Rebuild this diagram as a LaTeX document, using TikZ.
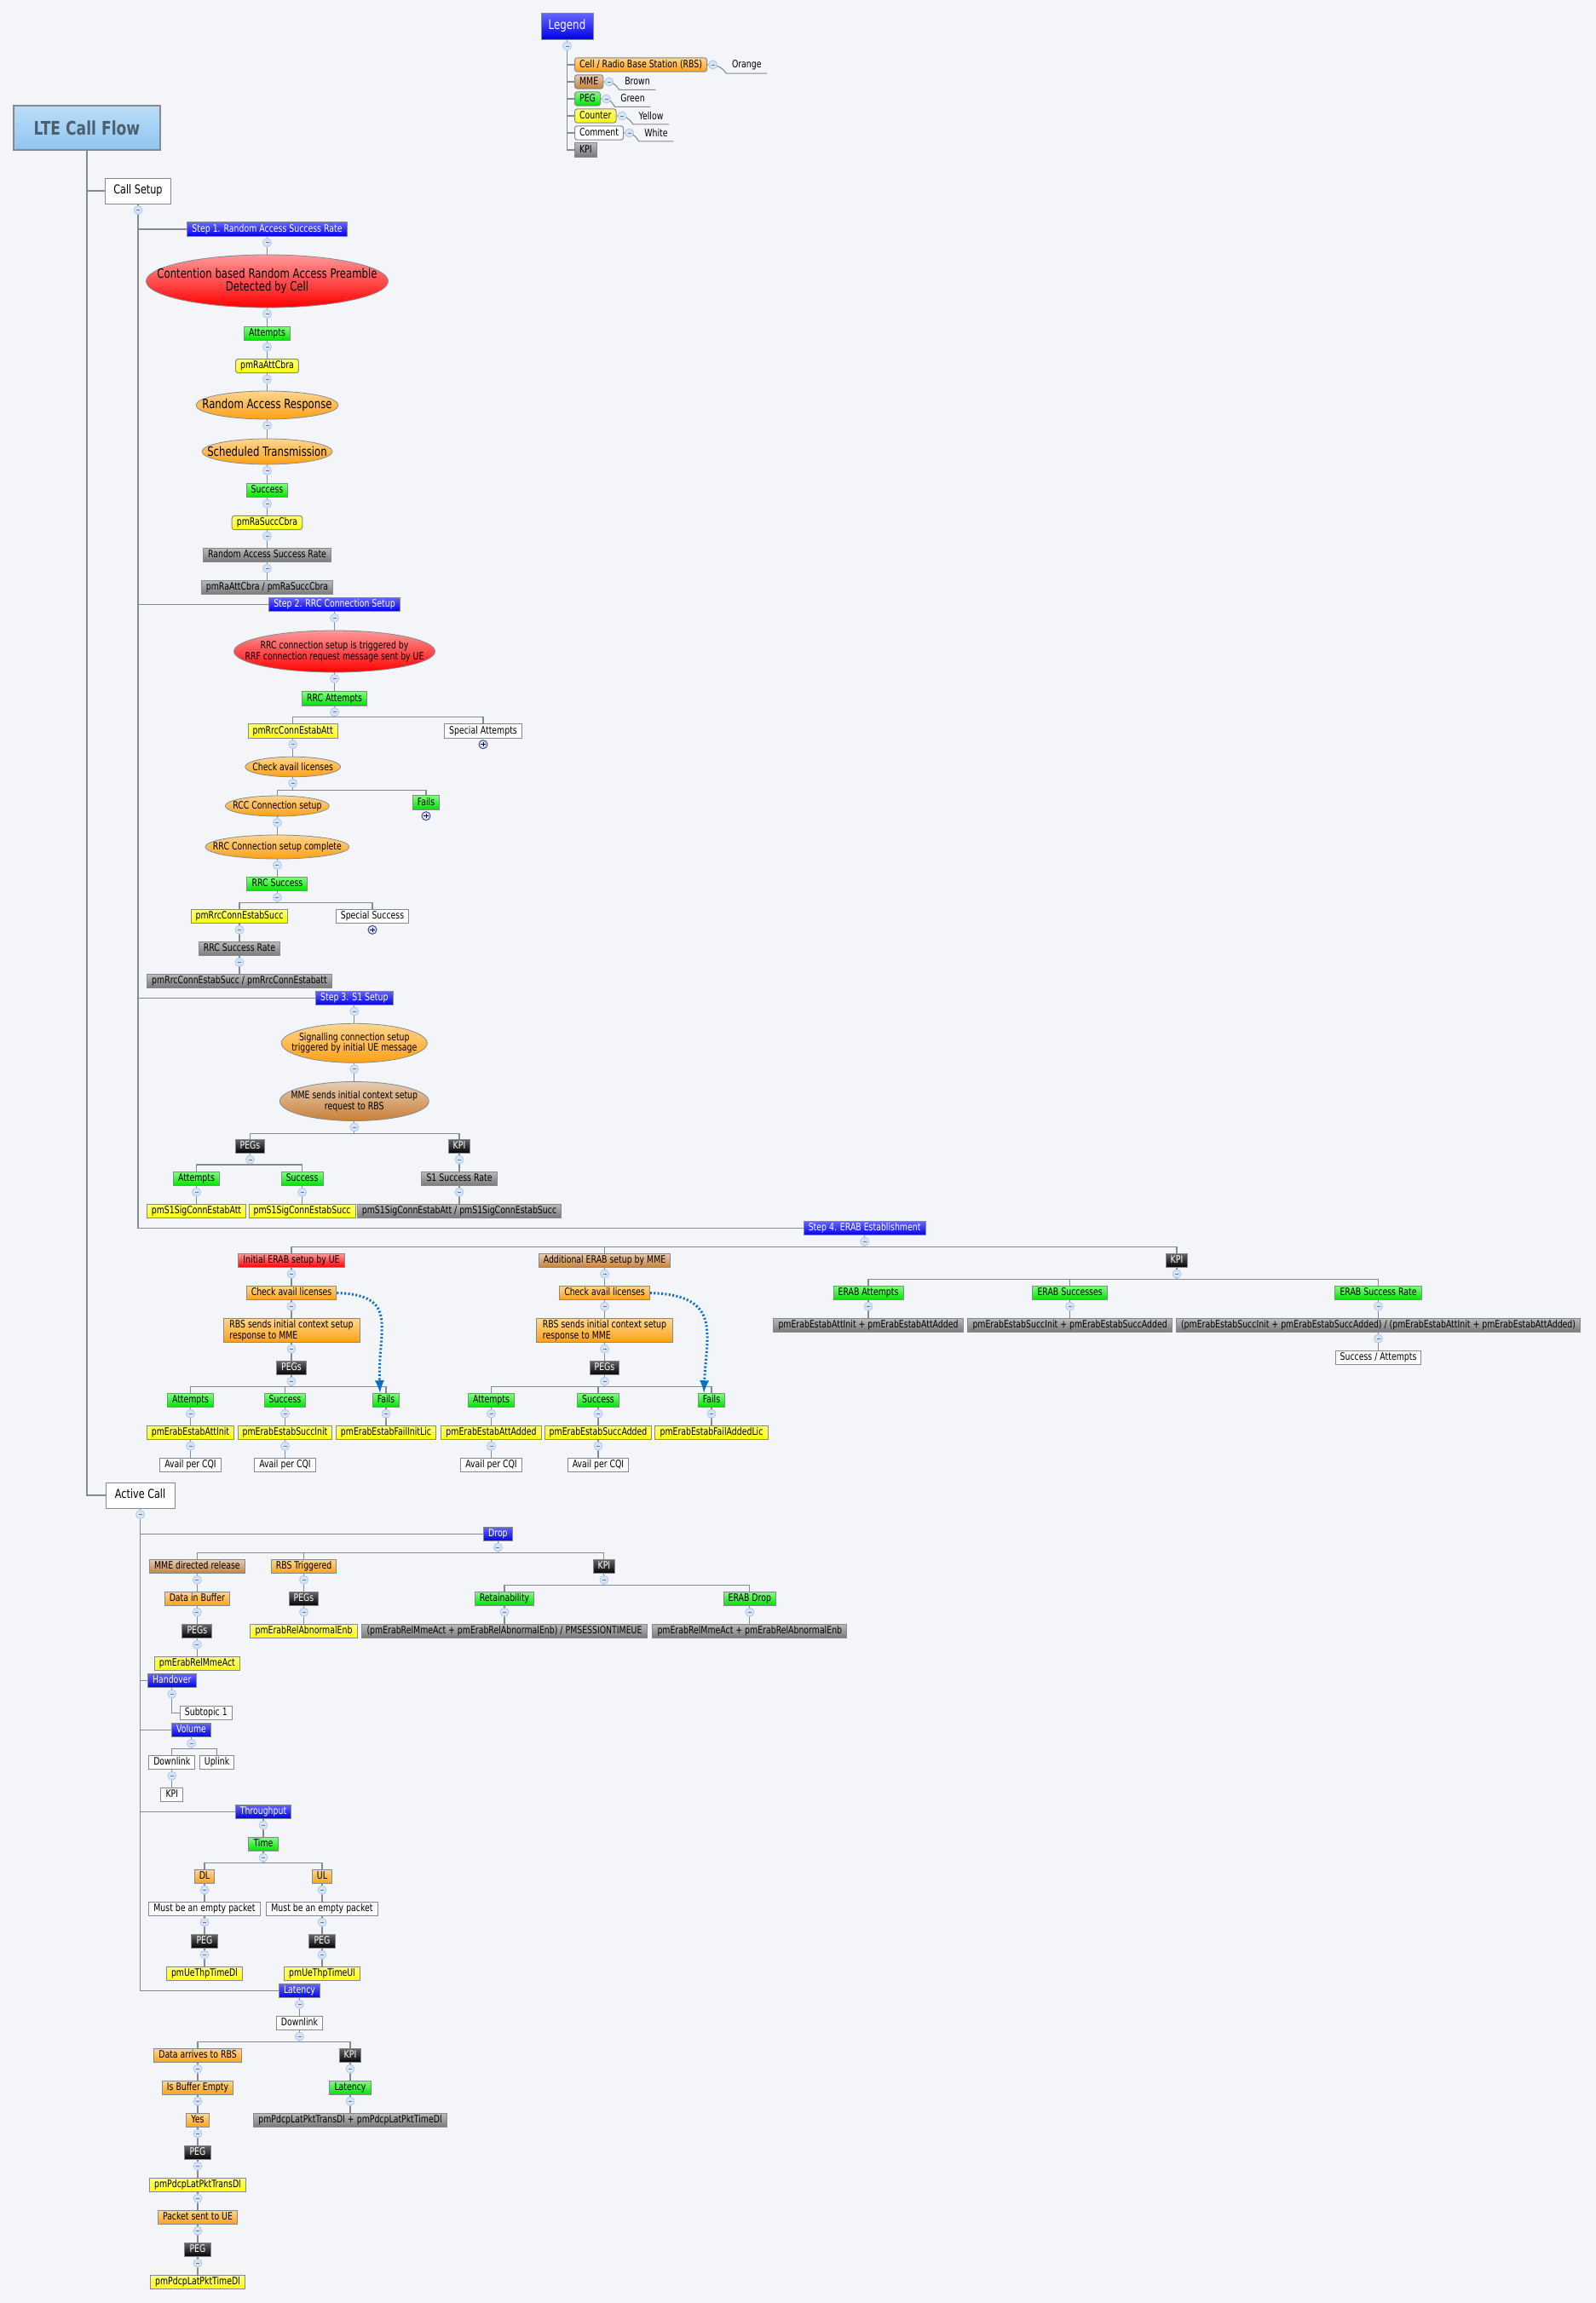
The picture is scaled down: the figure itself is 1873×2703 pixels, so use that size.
\documentclass[tikz,border=0pt]{standalone}
\usepackage{fontspec}
\setmainfont{DejaVu Sans}[FakeStretch=0.78]
\usetikzlibrary{calc,shapes.geometric}
\definecolor{bgc}{HTML}{F3F5F9}
\definecolor{edgec}{HTML}{858A91}
\definecolor{togf}{HTML}{D6E4F6}
\definecolor{togd}{HTML}{AFC8E8}
\definecolor{dotc}{HTML}{0B6FC4}
\definecolor{orgt}{HTML}{FFD68F}
\definecolor{orgb}{HTML}{FFA015}
\definecolor{ttlt}{HTML}{BBDDF8}
\definecolor{ttlb}{HTML}{8FC5F1}
\definecolor{ttlx}{HTML}{4D5F6E}
\tikzset{
  lnk/.style={draw=edgec,line width=.55pt},
  dotlnk/.style={draw=dotc,line width=1.5pt,dash pattern=on 1pt off 1.2pt,-latex},
  txt/.style={font=\fontsize{6}{6.2}\selectfont,text=black},
  lbig/.style={font=\fontsize{7.5}{7.6}\selectfont,text=black,align=center},
  lsm/.style={txt,align=center},
  box/.style={rectangle,draw=edgec,line width=.5pt,minimum height=8.2pt,inner ysep=0pt,inner xsep=2.8pt,
    text height=4.4pt,text depth=1.3pt,txt},
  ell/.style={ellipse,draw=edgec,line width=.4pt,inner sep=0pt},
  grn/.style={top color=green!50!white,bottom color=green!88!black},
  ylw/.style={top color=yellow!50!white,bottom color=yellow},
  org/.style={top color=orgt,bottom color=orgb},
  brn/.style={top color=brown!40!white,bottom color=brown!85!orange},
  rdd/.style={top color=red!40!white,bottom color=red},
  gry/.style={top color=black!27,bottom color=black!53},
  blk/.style={top color=black!60,bottom color=black,text=white},
  blu/.style={top color=blue!60!white,bottom color=blue!90!black,text=white},
  wht/.style={fill=white},
  ttl/.style={rectangle,draw=edgec,line width=.7pt,top color=ttlt,bottom color=ttlb},
  tog/.style={circle,draw=togd,fill=togf,line width=.4pt,minimum size=5pt,inner sep=0pt,
    path picture={\draw[togd!60!black,line width=.3pt] ([xshift=-1pt]path picture bounding box.center) -- ([xshift=1pt]path picture bounding box.center);}},
  togp/.style={circle,draw=blue!40!black!70,fill=togf,line width=.5pt,minimum size=5pt,inner sep=0pt,
    path picture={\draw[blue!40!black,line width=.4pt] ([xshift=-1.3pt]path picture bounding box.center) -- ([xshift=1.3pt]path picture bounding box.center)
      ([yshift=-1.3pt]path picture bounding box.center) -- ([yshift=1.3pt]path picture bounding box.center);}},
  note/.style={rectangle,inner ysep=0pt,inner xsep=3.2pt,minimum height=9.5pt,txt},
  twoline/.style={minimum height=14.2pt,minimum width=80pt,align=left,text height=,text depth=}
}
\newcommand\tog[1]{\node[tog] (t#1) at ($(#1.south)+(0,7)$) {};}
\newcommand\more[1]{\node[togp] (t#1) at ($(#1.south)+(0,7)$) {};}
\newcommand\kids[3][13]{
  \foreach \ch in {#3}{\draw[lnk] (#2.south) -- ++(0,#1) -| (\ch.north);}
  \tog{#2}
}
\newcommand\hue[2]{
  \draw[lnk] (#1.east) .. controls +(10,0) and +(-5,-8) .. (#2.south west) -- (#2.south east);
  \node[tog] (t#1) at ($(#1.east)+(6.5,0)$) {};
}
\begin{document}
\begin{tikzpicture}[x=.5pt,y=-.5pt]
  \useasboundingbox (0,0) rectangle (1873,2703);
  \fill[bgc] (0,0) rectangle (1873,2703);

  \node[ttl,minimum width=86pt,minimum height=26pt,font=\fontsize{11}{12}\bfseries,text=ttlx] (lte) at (102,150) {LTE Call Flow};
  \node[box,wht,minimum width=38.7pt,minimum height=15pt,font=\fontsize{7.2}{8}\selectfont] (setup) at (162,224) {Call Setup};
  \node[box,wht,minimum width=40.5pt,minimum height=15pt,font=\fontsize{7.2}{8}\selectfont] (active) at (164.6,1755) {Active Call};
  \draw[lnk] (lte.south) |- (setup.west);
  \draw[lnk] (lte.south) |- (active.west);

  \node[box,blu,minimum width=30.5pt,minimum height=15.5pt,font=\fontsize{7.6}{8}\selectfont] (legend) at (665.5,31) {Legend};
  \node[box,org,rounded corners=1.5pt,anchor=west] (cell) at (674,76) {Cell / Radio Base Station (RBS)};
  \node[box,brn,rounded corners=1.5pt,anchor=west] (mme) at (674,96) {MME};
  \node[box,grn,rounded corners=1.5pt,anchor=west] (peg) at (674,116) {PEG};
  \node[box,ylw,rounded corners=1.5pt,anchor=west] (counter) at (674,136) {Counter};
  \node[box,wht,rounded corners=1.5pt,anchor=west] (comment) at (674,156) {Comment};
  \node[box,gry,anchor=west] (kpi) at (674,176) {KPI};
  \foreach \n in {cell,mme,peg,counter,comment,kpi}{\draw[lnk] (legend.south) |- (\n.west);}
  \tog{legend}
  \node[note] (orange) at (876.3,76.2) {Orange};
  \node[note] (brown) at (748,95.5) {Brown};
  \node[note] (green) at (742.5,115.5) {Green};
  \node[note] (yellow) at (764,136) {Yellow};
  \node[note] (white) at (770,156) {White};
  \hue{cell}{orange}
  \hue{mme}{brown}
  \hue{peg}{green}
  \hue{counter}{yellow}
  \hue{comment}{white}

  \node[box,blu] (step1) at (313.5,269) {Step 1. Random Access Success Rate};
  \node[ell,rdd,minimum width=142pt,minimum height=31pt,label={[lbig]center:Contention based Random Access Preamble\\Detected by Cell}] (cont) at (313.5,330) {};
  \node[box,grn] (att1) at (313.5,391.5) {Attempts};
  \node[box,ylw,rounded corners=1.5pt] (racnt) at (313.5,429.5) {pmRaAttCbra};
  \node[ell,org,minimum width=83.5pt,minimum height=16.5pt,label={[lbig]center:Random Access Response}] (resp) at (313.5,475.5) {};
  \node[ell,org,minimum width=76.5pt,minimum height=15pt,label={[lbig]center:Scheduled Transmission}] (sched) at (313.5,530) {};
  \node[box,grn] (succ1) at (313.5,575.5) {Success};
  \node[box,ylw,rounded corners=1.5pt] (rasucc) at (313.5,613.5) {pmRaSuccCbra};
  \node[box,gry] (rarate) at (313.5,651.5) {Random Access Success Rate};
  \node[box,gry] (raform) at (313.5,689.5) {pmRaAttCbra / pmRaSuccCbra};
  \draw[lnk] (setup.south) |- (step1.west);
  \kids{step1}{cont}
  \kids{cont}{att1}
  \kids{att1}{racnt}
  \kids{racnt}{resp}
  \kids{resp}{sched}
  \kids{sched}{succ1}
  \kids{succ1}{rasucc}
  \kids{rasucc}{rarate}
  \kids{rarate}{raform}

  \node[box,blu] (step2) at (392.5,709.5) {Step 2. RRC Connection Setup};
  \node[ell,rdd,minimum width=118pt,minimum height=24.5pt,label={[lsm]center:RRC connection setup is triggered by\\RRF connection request message sent by UE}] (rrc) at (392.5,764.5) {};
  \node[box,grn] (rrcatt) at (392.5,820) {RRC Attempts};
  \node[box,ylw] (rrcpm) at (343.7,858) {pmRrcConnEstabAtt};
  \node[box,wht] (spatt) at (567,858) {Special Attempts};
  \node[ell,org,minimum width=56pt,minimum height=11.8pt,label={[lsm]center:Check avail licenses}] (lic) at (343.7,900) {};
  \node[ell,org,minimum width=61pt,minimum height=12pt,label={[lsm]center:RCC Connection setup}] (rcc) at (325.4,946) {};
  \node[box,grn] (fails) at (500,942) {Fails};
  \node[ell,org,minimum width=84.5pt,minimum height=14pt,label={[lsm]center:RRC Connection setup complete}] (rccdone) at (325.4,994) {};
  \node[box,grn] (rrcsucc) at (325.4,1037.5) {RRC Success};
  \node[box,ylw] (rrcspm) at (281,1075.6) {pmRrcConnEstabSucc};
  \node[box,wht] (spsucc) at (437,1075.6) {Special Success};
  \node[box,gry] (rrcrate) at (281,1113.7) {RRC Success Rate};
  \node[box,gry] (rrcform) at (281,1151.6) {pmRrcConnEstabSucc / pmRrcConnEstabatt};
  \draw[lnk] (setup.south) |- (step2.west);
  \kids{step2}{rrc}
  \kids{rrc}{rrcatt}
  \kids{rrcatt}{rrcpm,spatt}
  \more{spatt}
  \kids{rrcpm}{lic}
  \kids[15]{lic}{rcc,fails}
  \more{fails}
  \kids{rcc}{rccdone}
  \kids{rccdone}{rrcsucc}
  \kids{rrcsucc}{rrcspm,spsucc}
  \more{spsucc}
  \kids{rrcspm}{rrcrate}
  \kids{rrcrate}{rrcform}

  \node[box,blu] (step3) at (415.8,1171.3) {Step 3. S1 Setup};
  \node[ell,org,minimum width=85.5pt,minimum height=23pt,label={[lsm]center:Signalling connection setup\\triggered by initial UE message}] (sig) at (415.8,1224.3) {};
  \node[ell,brn,minimum width=87.5pt,minimum height=23pt,label={[lsm]center:MME sends initial context setup\\request to RBS}] (mmeinit) at (415.8,1292.5) {};
  \node[box,blk] (s1pegs) at (293.5,1345.3) {PEGs};
  \node[box,blk] (s1kpi) at (539,1345.3) {KPI};
  \node[box,grn] (s1att) at (230.5,1383.5) {Attempts};
  \node[box,grn] (s1succ) at (354.6,1383.5) {Success};
  \node[box,gry] (s1rate) at (539,1383.5) {S1 Success Rate};
  \node[box,ylw] (s1apm) at (230.5,1421.5) {pmS1SigConnEstabAtt};
  \node[box,ylw] (s1spm) at (354.6,1421.5) {pmS1SigConnEstabSucc};
  \node[box,gry] (s1form) at (539,1421.5) {pmS1SigConnEstabAtt / pmS1SigConnEstabSucc};
  \draw[lnk] (setup.south) |- (step3.west);
  \kids{step3}{sig}
  \kids{sig}{mmeinit}
  \kids[15]{mmeinit}{s1pegs,s1kpi}
  \kids{s1pegs}{s1att,s1succ}
  \kids{s1kpi}{s1rate}
  \kids{s1att}{s1apm}
  \kids{s1succ}{s1spm}
  \kids{s1rate}{s1form}

  \node[box,blu] (step4) at (1014.6,1441.5) {Step 4. ERAB Establishment};
  \node[box,rdd] (init) at (342,1479.5) {Initial ERAB setup by UE};
  \node[box,brn] (add) at (709.5,1479.5) {Additional ERAB setup by MME};
  \node[box,blk] (ekpi) at (1381,1479.5) {KPI};
  \node[box,org] (lica) at (342,1517.5) {Check avail licenses};
  \node[box,org] (licb) at (709.5,1517.5) {Check avail licenses};
  \node[box,org,twoline] (rbsa) at (342,1561.5) {RBS sends initial context setup\\response to MME};
  \node[box,org,twoline] (rbsb) at (709.5,1561.5) {RBS sends initial context setup\\response to MME};
  \node[box,blk] (pega) at (342,1605.5) {PEGs};
  \node[box,blk] (pegb) at (709.5,1605.5) {PEGs};
  \node[box,grn] (atta) at (223.5,1643.5) {Attempts};
  \node[box,grn] (suca) at (334.5,1643.5) {Success};
  \node[box,grn] (faila) at (453,1643.5) {Fails};
  \node[box,grn] (attb) at (576.5,1643.5) {Attempts};
  \node[box,grn] (sucb) at (702,1643.5) {Success};
  \node[box,grn] (failb) at (835,1643.5) {Fails};
  \node[box,ylw] (atpa) at (223.5,1681.5) {pmErabEstabAttInit};
  \node[box,ylw] (supa) at (334.5,1681.5) {pmErabEstabSuccInit};
  \node[box,ylw] (fapa) at (453,1681.5) {pmErabEstabFailInitLic};
  \node[box,ylw] (atpb) at (576.5,1681.5) {pmErabEstabAttAdded};
  \node[box,ylw] (supb) at (702,1681.5) {pmErabEstabSuccAdded};
  \node[box,ylw] (fapb) at (835,1681.5) {pmErabEstabFailAddedLic};
  \node[box,wht] (cqa) at (223.5,1719.5) {Avail per CQI};
  \node[box,wht] (cqb) at (334.5,1719.5) {Avail per CQI};
  \node[box,wht] (cqc) at (576.5,1719.5) {Avail per CQI};
  \node[box,wht] (cqd) at (702,1719.5) {Avail per CQI};
  \node[box,grn] (eatt) at (1019,1517.5) {ERAB Attempts};
  \node[box,grn] (esuc) at (1255.6,1517.5) {ERAB Successes};
  \node[box,grn] (erate) at (1617.5,1517.5) {ERAB Success Rate};
  \node[box,gry] (eatf) at (1019,1555.5) {pmErabEstabAttInit + pmErabEstabAttAdded};
  \node[box,gry] (esuf) at (1255.6,1555.5) {pmErabEstabSuccInit + pmErabEstabSuccAdded};
  \node[box,gry] (eraf) at (1617.5,1555.5) {(pmErabEstabSuccInit + pmErabEstabSuccAdded) / (pmErabEstabAttInit + pmErabEstabAttAdded)};
  \node[box,wht] (esa) at (1617.5,1593.5) {Success / Attempts};
  \draw[lnk] (setup.south) |- (step4.west);
  \kids{step4}{init,add,ekpi}
  \kids{init}{lica}
  \kids{add}{licb}
  \kids{lica}{rbsa}
  \kids{licb}{rbsb}
  \kids{rbsa}{pega}
  \kids{rbsb}{pegb}
  \kids{pega}{atta,suca,faila}
  \kids{pegb}{attb,sucb,failb}
  \foreach \n/\m in {atta/atpa,suca/supa,faila/fapa,attb/atpb,sucb/supb,failb/fapb,atpa/cqa,supa/cqb,atpb/cqc,supb/cqd}{\kids{\n}{\m}}
  \kids{ekpi}{eatt,esuc,erate}
  \kids{eatt}{eatf}
  \kids{esuc}{esuf}
  \kids{erate}{eraf}
  \kids{eraf}{esa}
  \draw[dotlnk] (lica.east) .. controls (470,1520) and (443,1560) .. ($(faila.north)+(-7,0)$);
  \draw[dotlnk] (licb.east) .. controls (848,1520) and (829,1565) .. ($(failb.north)+(-9,0)$);

  \node[box,blu] (drop) at (584.4,1800.5) {Drop};
  \node[box,brn] (mdr) at (231.4,1838.5) {MME directed release};
  \node[box,org] (rbst) at (356.5,1838.5) {RBS Triggered};
  \node[box,blk] (dkpi) at (708.9,1838.5) {KPI};
  \node[box,org] (buf) at (231.4,1876.5) {Data in Buffer};
  \node[box,blk] (dpga) at (356.5,1876.5) {PEGs};
  \node[box,grn] (ret) at (592,1876.5) {Retainability};
  \node[box,grn] (edrop) at (879.8,1876.5) {ERAB Drop};
  \node[box,blk] (dpgb) at (231.4,1914.5) {PEGs};
  \node[box,ylw] (abn) at (356.5,1914.5) {pmErabRelAbnormalEnb};
  \node[box,gry] (retf) at (592,1914.5) {(pmErabRelMmeAct + pmErabRelAbnormalEnb) / PMSESSIONTIMEUE};
  \node[box,gry] (edrf) at (879.8,1914.5) {pmErabRelMmeAct + pmErabRelAbnormalEnb};
  \node[box,ylw] (rmm) at (231.4,1952.5) {pmErabRelMmeAct};
  \draw[lnk] (active.south) |- (drop.west);
  \kids{drop}{mdr,rbst,dkpi}
  \kids{mdr}{buf}
  \kids{rbst}{dpga}
  \kids{dkpi}{ret,edrop}
  \kids{buf}{dpgb}
  \kids{dpga}{abn}
  \kids{ret}{retf}
  \kids{edrop}{edrf}
  \kids{dpgb}{rmm}

  \node[box,blu] (hand) at (201.8,1972.5) {Handover};
  \node[box,wht] (sub) at (241.8,2010.5) {Subtopic 1};
  \node[box,blu] (vol) at (224.5,2030.5) {Volume};
  \node[box,wht] (dlv) at (201.8,2068.5) {Downlink};
  \node[box,wht] (ulv) at (254.6,2068.5) {Uplink};
  \node[box,wht] (kpv) at (201.8,2106.5) {KPI};
  \draw[lnk] (active.south) |- (hand.west);
  \draw[lnk] (active.south) |- (vol.west);
  \draw[lnk] (hand.south) |- (sub.west);
  \tog{hand}
  \kids{vol}{dlv,ulv}
  \kids{dlv}{kpv}

  \node[box,blu] (thr) at (309,2126.3) {Throughput};
  \node[box,grn] (time) at (309,2164.5) {Time};
  \node[box,org] (dl) at (240,2202.5) {DL};
  \node[box,org] (ul) at (378,2202.5) {UL};
  \node[box,wht] (emd) at (240,2240.5) {Must be an empty packet};
  \node[box,wht] (emu) at (378,2240.5) {Must be an empty packet};
  \node[box,blk] (pgd) at (240,2278.5) {PEG};
  \node[box,blk] (pgu) at (378,2278.5) {PEG};
  \node[box,ylw] (thd) at (240,2316.5) {pmUeThpTimeDl};
  \node[box,ylw] (thu) at (378,2316.5) {pmUeThpTimeUl};
  \draw[lnk] (active.south) |- (thr.west);
  \kids{thr}{time}
  \kids{time}{dl,ul}
  \kids{dl}{emd}
  \kids{ul}{emu}
  \kids{emd}{pgd}
  \kids{emu}{pgu}
  \kids{pgd}{thd}
  \kids{pgu}{thu}

  \node[box,blu] (lat) at (351.5,2336.7) {Latency};
  \node[box,wht] (dll) at (351.5,2374.5) {Downlink};
  \node[box,org] (arr) at (232,2412.5) {Data arrives to RBS};
  \node[box,blk] (lkpi) at (411,2412.5) {KPI};
  \node[box,org] (emp) at (232,2450.5) {Is Buffer Empty};
  \node[box,grn] (ltn) at (411,2450.5) {Latency};
  \node[box,org] (yes) at (232,2488.5) {Yes};
  \node[box,gry] (lform) at (411,2488.5) {pmPdcpLatPktTransDl + pmPdcpLatPktTimeDl};
  \node[box,blk] (pgl) at (232,2526.5) {PEG};
  \node[box,ylw] (ltr) at (232,2564.5) {pmPdcpLatPktTransDl};
  \node[box,org] (sent) at (232,2602.5) {Packet sent to UE};
  \node[box,blk] (pgm) at (232,2640.5) {PEG};
  \node[box,ylw] (ltt) at (232,2678.5) {pmPdcpLatPktTimeDl};
  \draw[lnk] (active.south) |- (lat.west);
  \kids{lat}{dll}
  \kids{dll}{arr,lkpi}
  \kids{arr}{emp}
  \kids{lkpi}{ltn}
  \kids{emp}{yes}
  \kids{ltn}{lform}
  \kids{yes}{pgl}
  \kids{pgl}{ltr}
  \kids{ltr}{sent}
  \kids{sent}{pgm}
  \kids{pgm}{ltt}
  \tog{active}
  \tog{setup}
\end{tikzpicture}
\end{document}
